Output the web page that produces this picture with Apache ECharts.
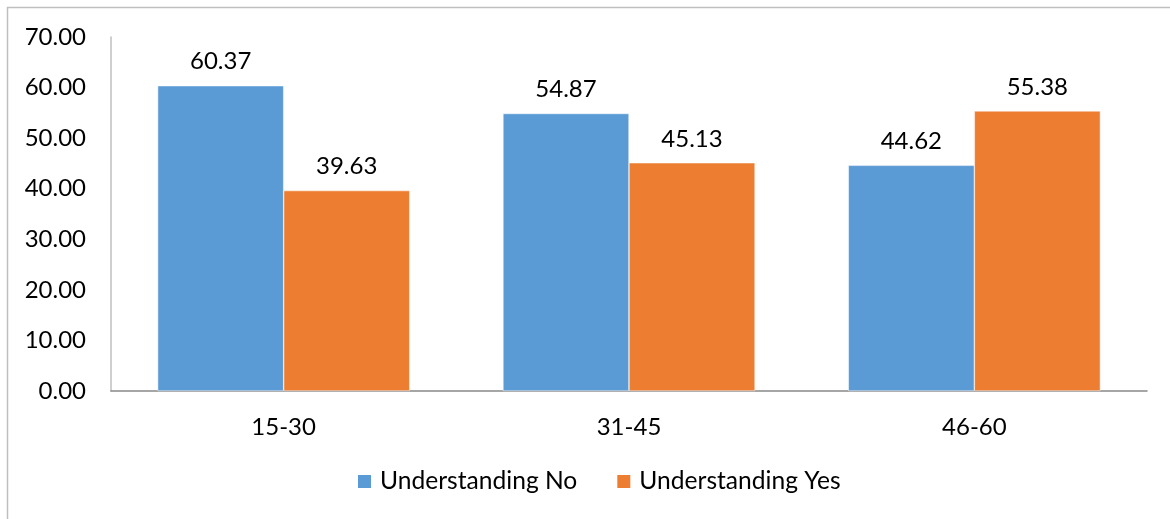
<!DOCTYPE html>
<html>
<head>
<meta charset="utf-8">
<script src="https://cdn.jsdelivr.net/npm/echarts@6/dist/echarts.min.js"></script>
<style>
  html, body { margin: 0; padding: 0; background: #fff; }
  #chart { width: 1170px; height: 519px; }
</style>
</head>
<body>
<div id="chart"></div>
<script>
// Age groups and the share (%) answering each way
const ageGroups = ['15-30', '31-45', '46-60'];
const understandingNo = [60.37, 54.87, 44.62];
const understandingYes = [39.63, 45.13, 55.38];
const seriesNames = ['Understanding No', 'Understanding Yes'];

const FONT = 'Lato';
const FS = 24;
const chart = echarts.init(document.getElementById('chart'), null, { renderer: 'canvas' });

const valueLabel = {
  show: true,
  position: 'top',
  distance: 12,
  fontFamily: FONT,
  fontSize: FS,
  color: '#000',
  formatter: p => p.value.toFixed(2)
};

chart.setOption({
  animation: false,
  backgroundColor: '#fff',
  textStyle: { fontFamily: FONT },
  graphic: [{
    type: 'rect',
    shape: { x: 7.5, y: 7.5, width: 1300, height: 700 },
    style: { fill: 'none', stroke: '#bfbfbf', lineWidth: 1.5 },
    silent: true
  }],
  grid: { left: 111, right: 23, top: 37, bottom: 128, containLabel: false },
  legend: {
    data: seriesNames,
    bottom: 20,
    left: 351,
    itemWidth: 15,
    itemHeight: 15,
    itemGap: 38,
    icon: 'rect',
    textStyle: { fontFamily: FONT, fontSize: 24.6, color: '#000', padding: [0, 0, 0, 3] }
  },
  xAxis: {
    type: 'category',
    data: ageGroups,
    axisLine: { lineStyle: { color: '#898989', width: 1.5 } },
    axisTick: { show: false },
    axisLabel: { fontFamily: FONT, fontSize: FS, color: '#000', margin: 24 }
  },
  yAxis: {
    type: 'value',
    min: 0,
    max: 70,
    interval: 10,
    axisLine: { show: true, lineStyle: { color: '#bfbfbf', width: 1.5 } },
    axisTick: { show: false },
    splitLine: { show: false },
    axisLabel: {
      fontFamily: FONT, fontSize: FS, color: '#000', margin: 25,
      formatter: v => v.toFixed(2)
    }
  },
  series: [
    {
      name: seriesNames[0],
      type: 'bar',
      data: understandingNo,
      barGap: '0%',
      barCategoryGap: '27%',
      itemStyle: { color: '#5B9BD5', borderColor: '#fff', borderWidth: 0.5 },
      label: valueLabel
    },
    {
      name: seriesNames[1],
      type: 'bar',
      data: understandingYes,
      barGap: '0%',
      barCategoryGap: '27%',
      itemStyle: { color: '#ED7D31', borderColor: '#fff', borderWidth: 0.5 },
      label: valueLabel
    }
  ]
});
</script>
</body>
</html>
